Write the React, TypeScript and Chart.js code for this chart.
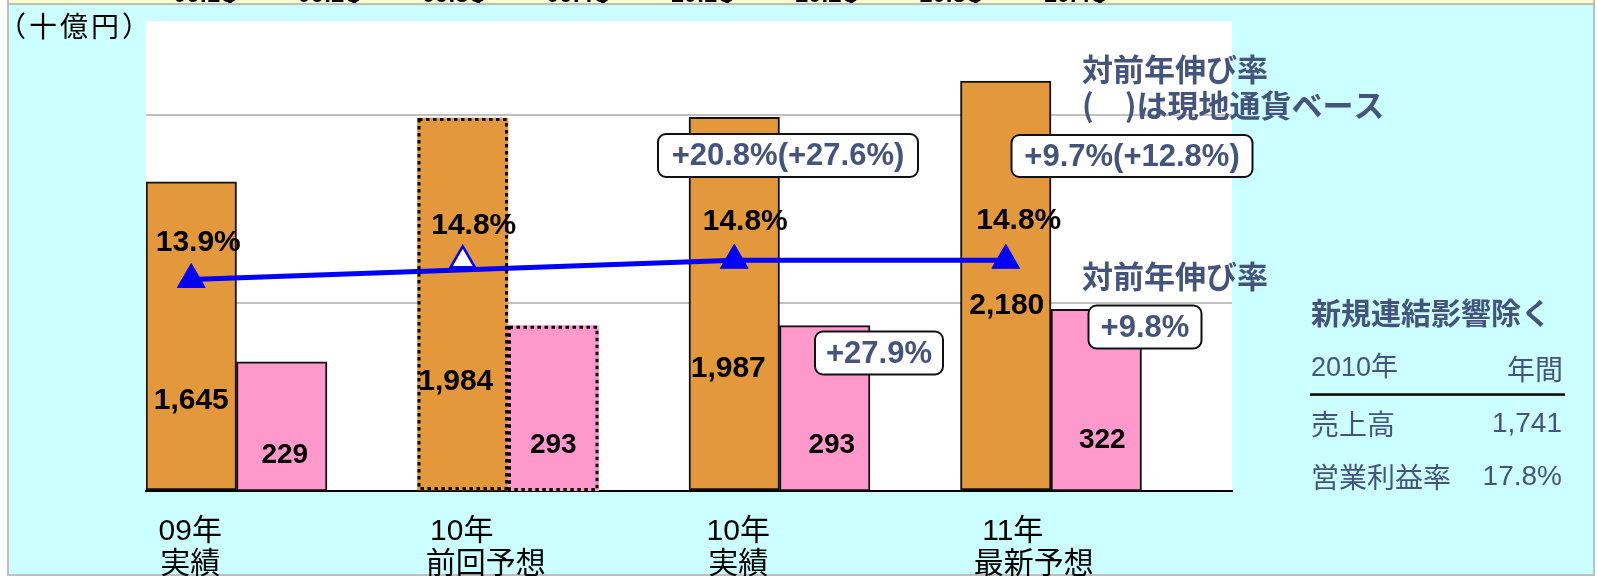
import React, { useEffect, useRef } from 'react';
import { Chart, registerables } from 'chart.js';

Chart.register(...registerables);

// ---------- data ----------
const categories: string[][] = [
  ['09年', '実績'],
  ['10年', '前回予想'],
  ['10年', '実績'],
  ['11年', '最新予想'],
];
const sales = [1645, 1984, 1987, 2180];
const operatingProfit = [229, 293, 293, 322];
const marginActual: (number | null)[] = [13.9, null, 14.8, 14.8];
const marginPrevForecast: (number | null)[] = [null, 14.8, null, null];
const forecastStyle = [false, true, false, false];
const salesGridTicks = [1000, 2000];
const growthBoxTexts = ['+20.8%(+27.6%)', '+9.7%(+12.8%)', '+27.9%', '+9.8%'];
const topStripLabels = ['09.1Q', '09.2Q', '09.3Q', '09.4Q', '10.1Q', '10.2Q', '10.3Q', '10.4Q'];
const unitLabel = '（十億円）';
const noteGrowth = '対前年伸び率';
const noteLocal = '(　)は現地通貨ベース';
const tableTitle = '新規連結影響除く';
const tableHeader = ['2010年', '年間'];
const tableRows = [
  ['売上高', '1,741'],
  ['営業利益率', '17.8%'],
];

// ---------- layout (positions / styles only) ----------
const W = 1597;
const H = 576;
const SLOTS = 3; // orange bar, pink bar, gap
const PAD = { left: 146, top: 21, right: W - 1232, bottom: H - 491 };
const SALES_MAX = 2500;
const PROFIT_MAX = 833;
const MARGIN_MIN = 4;
const MARGIN_MAX = 26;
const salesLabelOff = [[0, -90], [-7, -109], [-6, -122], [1, -185]];
const profitLabelOff = [[3, -36], [0, -46], [7, -46], [6, -51]];
const marginLabelOff = [[7, -37], [11, -35], [11, -39], [13, -40]];
const catLabelDx = [[-1, -1], [-1, 23], [4, 4], [7, 28]];
const boxLayout = [
  { cx: 788, cy: 155.5, w: 260, h: 43 },
  { cx: 1132, cy: 156, w: 241, h: 42 },
  { cx: 879, cy: 353, w: 128, h: 43 },
  { cx: 1145, cy: 327, w: 113, h: 43 },
];
const ORANGE = '#E2983B';
const PINK = '#FF99CC';
const BLUE = '#0000FF';
const NAVY = '#44547C';
const LAT = '"Liberation Sans", "Noto Sans CJK JP", sans-serif';
const CJK = '"Noto Sans CJK JP", "Liberation Sans", sans-serif';

const slotData = (arr: (number | null)[], slot: number) =>
  arr.flatMap((v) => Array.from({ length: SLOTS }, (_, k) => (k === slot ? v : null)));
const slotLabels = categories.flatMap((c) => Array.from({ length: SLOTS }, (_, k) => (k === 0 ? c.join(' ') : '')));

function text(
  ctx: CanvasRenderingContext2D,
  s: string,
  x: number,
  y: number,
  font: string,
  color: string,
  align: CanvasTextAlign = 'center',
  spacing = '0px'
) {
  ctx.font = font;
  ctx.fillStyle = color;
  ctx.textAlign = align;
  ctx.textBaseline = 'middle';
  (ctx as any).letterSpacing = spacing;
  ctx.fillText(s, x, y);
  (ctx as any).letterSpacing = '0px';
}

function roundRect(ctx: CanvasRenderingContext2D, x: number, y: number, w: number, h: number, r: number) {
  ctx.beginPath();
  ctx.moveTo(x + r, y);
  ctx.arcTo(x + w, y, x + w, y + h, r);
  ctx.arcTo(x + w, y + h, x, y + h, r);
  ctx.arcTo(x, y + h, x, y, r);
  ctx.arcTo(x, y, x + w, y, r);
  ctx.closePath();
}

const decorPlugin = {
  id: 'decor',
  beforeDraw(chart: any) {
    const ctx: CanvasRenderingContext2D = chart.ctx;
    const a = chart.chartArea;
    ctx.save();
    ctx.fillStyle = '#FFFFFF';
    ctx.fillRect(0, 0, W, H);
    ctx.fillStyle = '#BEBEBE';
    ctx.fillRect(7, 0, 1588, H);
    ctx.fillStyle = '#CCFFFF';
    ctx.fillRect(9, 5, 1584, H - 7);
    ctx.fillStyle = '#FFFFCC';
    ctx.fillRect(9, 0, 1584, 3);
    ctx.save();
    ctx.beginPath();
    ctx.rect(9, 0, 1584, 3);
    ctx.clip();
    ctx.fillStyle = '#000';
    ctx.font = 'bold 24px "Liberation Sans"';
    ctx.textAlign = 'center';
    ctx.textBaseline = 'alphabetic';
    topStripLabels.forEach((t, i) => ctx.fillText(t, 206 + i * 124.3, 1.5));
    ctx.restore();
    ctx.fillStyle = '#FFFFFF';
    ctx.fillRect(a.left, a.top, a.right - a.left, a.bottom - a.top);
    ctx.restore();
  },
  afterDatasetsDraw(chart: any) {
    const ctx: CanvasRenderingContext2D = chart.ctx;
    ctx.save();
    ctx.setLineDash([3.5, 3.5]);
    ctx.lineWidth = 3;
    ctx.strokeStyle = '#000';
    [2, 3].forEach((di) => {
      const meta = chart.getDatasetMeta(di);
      categories.forEach((_, i) => {
        if (!forecastStyle[i]) return;
        const el = meta.data[i * SLOTS + (di - 2)];
        if (!el) return;
        const p = el.getProps(['x', 'y', 'base', 'width'], true);
        ctx.strokeRect(p.x - p.width / 2 + 1.5, p.y + 1.5, p.width - 3, p.base - p.y - 3);
      });
    });
    ctx.restore();
  },
  afterDraw(chart: any) {
    const ctx: CanvasRenderingContext2D = chart.ctx;
    const a = chart.chartArea;
    const xs = chart.scales.x;
    ctx.save();
    // unit
    text(ctx, unitLabel, -2, 26, `28px ${CJK}`, '#000', 'left', '3px');
    // value labels
    const salesMeta = chart.getDatasetMeta(2);
    const profitMeta = chart.getDatasetMeta(3);
    const lineMeta = chart.getDatasetMeta(1);
    const hollowMeta = chart.getDatasetMeta(0);
    categories.forEach((cat, i) => {
      const sBar = salesMeta.data[i * SLOTS];
      const pBar = profitMeta.data[i * SLOTS + 1];
      text(ctx, sales[i].toLocaleString('en-US'), sBar.x + salesLabelOff[i][0], a.bottom + salesLabelOff[i][1], `bold 30px ${LAT}`, '#000');
      text(ctx, operatingProfit[i].toLocaleString('en-US'), pBar.x + profitLabelOff[i][0], a.bottom + profitLabelOff[i][1], `bold 28px ${LAT}`, '#000');
      const m = marginActual[i] ?? marginPrevForecast[i];
      const pt = marginActual[i] != null ? lineMeta.data[i * SLOTS] : hollowMeta.data[i * SLOTS];
      if (m != null && pt) {
        text(ctx, `${m.toFixed(1)}%`, pt.x + marginLabelOff[i][0], pt.y + marginLabelOff[i][1], `bold 30px ${LAT}`, '#000');
      }
      const cx = xs.getPixelForValue(i * SLOTS);
      text(ctx, cat[0], cx + catLabelDx[i][0], a.bottom + 40.5, `30px ${LAT}`, '#000');
      text(ctx, cat[1], cx + catLabelDx[i][1], a.bottom + 71, `30px ${CJK}`, '#000');
    });
    // growth boxes
    growthBoxTexts.forEach((t, i) => {
      const b = boxLayout[i];
      roundRect(ctx, b.cx - b.w / 2, b.cy - b.h / 2, b.w, b.h, 8);
      ctx.fillStyle = '#FFFFFF';
      ctx.fill();
      ctx.lineWidth = 2;
      ctx.strokeStyle = '#111';
      ctx.stroke();
      text(ctx, t, b.cx, b.cy + 1, `bold 31px ${LAT}`, NAVY);
    });
    // notes
    text(ctx, noteGrowth, 1082, 69, `bold 31px ${CJK}`, NAVY, 'left');
    text(ctx, noteLocal, 1082, 105.5, `bold 31px ${CJK}`, NAVY, 'left');
    text(ctx, noteGrowth, 1082, 276.5, `bold 31px ${CJK}`, NAVY, 'left');
    // table
    text(ctx, tableTitle, 1311, 312.5, `bold 30px ${CJK}`, NAVY, 'left');
    text(ctx, tableHeader[0], 1311, 369, `27px ${LAT}`, NAVY, 'left');
    text(ctx, tableHeader[1], 1563, 369, `28px ${CJK}`, NAVY, 'right');
    ctx.fillStyle = '#000';
    ctx.fillRect(1310, 393.3, 255, 2.5);
    tableRows.forEach((r, i) => {
      const y = 424 + i * 53;
      text(ctx, r[0], 1311, y, `28px ${CJK}`, NAVY, 'left');
      text(ctx, r[1], 1562, y, `28px ${LAT}`, NAVY, 'right');
    });
    ctx.restore();
  },
};

export default function App() {
  const ref = useRef<HTMLCanvasElement | null>(null);
  useEffect(() => {
    if (!ref.current) return;
    const chart = new Chart(ref.current, {
      type: 'bar',
      data: {
        labels: slotLabels,
        datasets: [
          {
            type: 'line',
            label: 'prev forecast margin',
            data: slotData(marginPrevForecast, 0),
            yAxisID: 'yM',
            showLine: false,
            pointStyle: 'triangle',
            pointRadius: 14,
            pointBackgroundColor: '#FFFFFF',
            pointBorderColor: BLUE,
            pointBorderWidth: 2.5,
            order: 0,
          } as any,
          {
            type: 'line',
            label: 'margin',
            data: slotData(marginActual, 0),
            yAxisID: 'yM',
            spanGaps: true,
            borderColor: BLUE,
            borderWidth: 5,
            tension: 0,
            pointStyle: 'triangle',
            pointRadius: 16,
            pointBackgroundColor: BLUE,
            pointBorderColor: BLUE,
            pointBorderWidth: 1,
            order: 1,
          } as any,
          {
            type: 'bar',
            label: 'sales',
            data: slotData(sales, 0),
            yAxisID: 'y',
            backgroundColor: ORANGE,
            borderColor: '#111',
            borderWidth: (c: any) => (forecastStyle[Math.floor(c.dataIndex / SLOTS)] ? 0 : 2),
            borderSkipped: false,
            grouped: false,
            barPercentage: 1,
            categoryPercentage: 1,
            order: 3,
          } as any,
          {
            type: 'bar',
            label: 'operating profit',
            data: slotData(operatingProfit, 1),
            yAxisID: 'yP',
            backgroundColor: PINK,
            borderColor: '#111',
            borderWidth: (c: any) => (forecastStyle[Math.floor(c.dataIndex / SLOTS)] ? 0 : 2),
            borderSkipped: false,
            grouped: false,
            barPercentage: 1,
            categoryPercentage: 1,
            order: 2,
          } as any,
        ],
      },
      options: {
        animation: false,
        responsive: false,
        devicePixelRatio: 1,
        layout: { padding: PAD },
        plugins: { legend: { display: false }, tooltip: { enabled: false } },
        scales: {
          x: {
            type: 'category',
            offset: true,
            grid: { display: false, drawTicks: false },
            ticks: { display: false },
            border: { display: true, color: '#000', width: 2 },
          },
          y: {
            position: 'left',
            min: 0,
            max: SALES_MAX,
            afterBuildTicks: (s: any) => {
              s.ticks = [0, ...salesGridTicks, SALES_MAX].map((v) => ({ value: v }));
            },
            ticks: { display: false },
            grid: {
              drawTicks: false,
              lineWidth: 2,
              color: (c: any) => (salesGridTicks.includes(c.tick?.value) ? '#C0C0C0' : 'rgba(0,0,0,0)'),
            },
            border: { display: false },
          },
          yP: { display: false, min: 0, max: PROFIT_MAX },
          yM: { display: false, min: MARGIN_MIN, max: MARGIN_MAX },
        },
      } as any,
      plugins: [decorPlugin],
    });
    return () => chart.destroy();
  }, []);
  return (
    <canvas
      ref={ref}
      width={W}
      height={H}
      style={{ position: 'fixed', left: 0, top: 0, width: W, height: H, display: 'block' }}
    />
  );
}
